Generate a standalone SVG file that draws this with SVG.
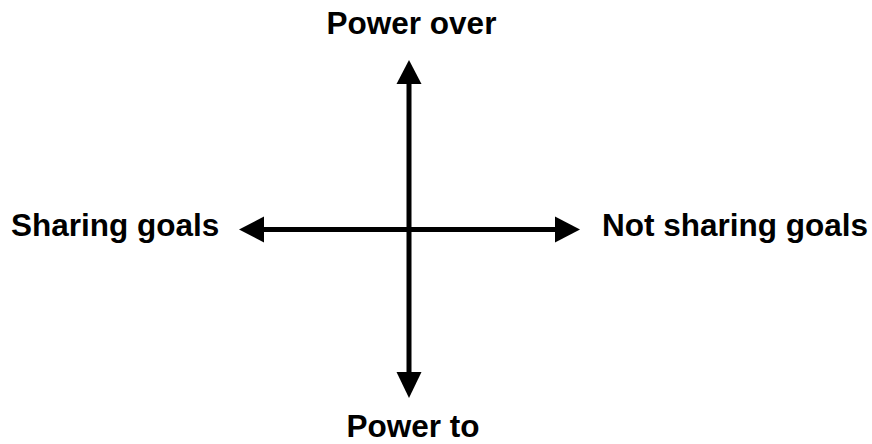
<svg xmlns="http://www.w3.org/2000/svg" width="872" height="444" viewBox="0 0 872 444">
<style>
.lbl{font-family:"Liberation Sans",Arial,sans-serif;font-weight:bold;font-size:31.5px;fill:#000}
.ax{stroke:#000;stroke-width:5;fill:none}
.hd{fill:#000}
</style>
<rect width="872" height="444" fill="#fff"/>
<g id="connectors">
<line class="ax" x1="409" y1="82" x2="409" y2="374"/>
<polygon class="hd" points="409,60 396.5,84 421.5,84"/>
<polygon class="hd" points="409,398 396.5,372 421.5,372"/>
<line class="ax" x1="262" y1="229.5" x2="557" y2="229.5"/>
<polygon class="hd" points="239,229.5 264,216.5 264,242.5"/>
<polygon class="hd" points="580,229.5 555,216.5 555,242.5"/>
</g>
<g id="power-over"><text class="lbl" x="411.5" y="34" text-anchor="middle">Power over</text></g>
<g id="power-to"><text class="lbl" x="413" y="437" text-anchor="middle">Power to</text></g>
<g id="sharing-goals"><text class="lbl" x="11" y="236">Sharing goals</text></g>
<g id="not-sharing-goals"><text class="lbl" x="602" y="236">Not sharing goals</text></g>
</svg>
